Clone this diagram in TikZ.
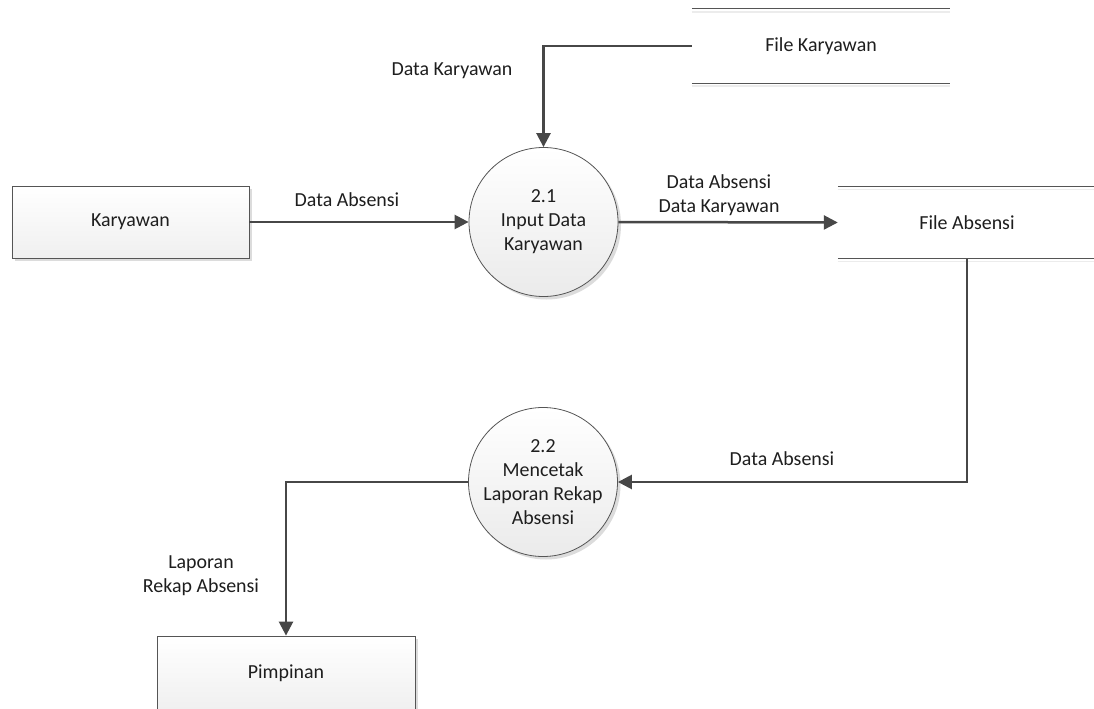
\documentclass[tikz,border=0pt]{standalone}
\usepackage{fontspec}
\setmainfont{Carlito}
\usetikzlibrary{arrows.meta,shadows}
\definecolor{ln}{HTML}{474747}
\definecolor{bd}{HTML}{555555}
\definecolor{sh}{HTML}{DCDCDC}
\definecolor{shl}{HTML}{ECECEC}
\definecolor{tx}{HTML}{1E1E1E}
\begin{document}
\begin{tikzpicture}[x=1bp,y=-1bp,
  txt/.style={font=\fontsize{20}{24}\selectfont, text=tx},
  ent/.style={txt, rectangle, draw=bd, line width=0.8bp, top color=white, bottom color=gray!12,
     minimum width=237bp, minimum height=72bp, inner sep=0pt,
     drop shadow={shadow xshift=3bp, shadow yshift=-3bp, fill=sh, opacity=1}},
  proc/.style={txt, circle, draw=bd, line width=0.8bp, top color=white, bottom color=gray!16,
     minimum size=149bp, inner sep=0pt, align=center,
     drop shadow={shadow xshift=3bp, shadow yshift=-3bp, fill=sh, opacity=1}},
  store/.style={txt, rectangle, minimum width=258bp, minimum height=74bp, inner sep=0pt},
  flow/.style={draw=ln, line width=2.5bp, -{Triangle[length=14bp,width=14bp]}},
  lbl/.style={txt, align=center, inner sep=0pt}
]
\useasboundingbox (0,0) rectangle (1094,709);
\clip (0,0) rectangle (1094,709);
\fill[white] (0,0) rectangle (1094,709);

% nodes
\node[ent] (kary) at (130.5,222) {Karyawan};
\node[ent, minimum width=258bp, minimum height=74bp] (pim) at (286,673) {Pimpinan};
\node[proc] (p21) at (543.5,222) {2.1\\Input Data\\Karyawan};
\node[proc] (p22) at (543,482) {2.2\\Mencetak\\Laporan Rekap\\Absensi};
\node[store] (fk) at (821,46) {File Karyawan};
\node[store, minimum height=72bp] (fa) at (967,222.5) {File Absensi};

% data store lines
\foreach \s in {fk,fa}{
  \draw[shl, line width=1.5bp] ([yshift=-3bp]\s.north west) -- ([yshift=-3bp]\s.north east);
  \draw[shl, line width=1.5bp] ([yshift=-3bp]\s.south west) -- ([yshift=-3bp]\s.south east);
  \draw[bd, line width=1bp] (\s.north west) -- (\s.north east);
  \draw[bd, line width=1bp] (\s.south west) -- (\s.south east);
}

% flows
\draw[flow] (fk.west) -| (p21.north);
\draw[flow] (kary.east) -- (p21.west);
\draw[flow] (p21.east) -- (fa.west);
\draw[flow] (fa.south) |- (p22.east);
\draw[flow] (p22.west) -| (pim.north);

% labels
\node[lbl] (l1) at (452,71) {Data Karyawan};
\node[lbl] (l2) at (347,200) {Data Absensi};
\node[lbl] (l3) at (719,195.5) {Data Absensi\\Data Karyawan};
\node[lbl] (l4) at (782,459) {Data Absensi};
\node[lbl] (l5) at (201,576) {Laporan\\Rekap Absensi};
\end{tikzpicture}
\end{document}
